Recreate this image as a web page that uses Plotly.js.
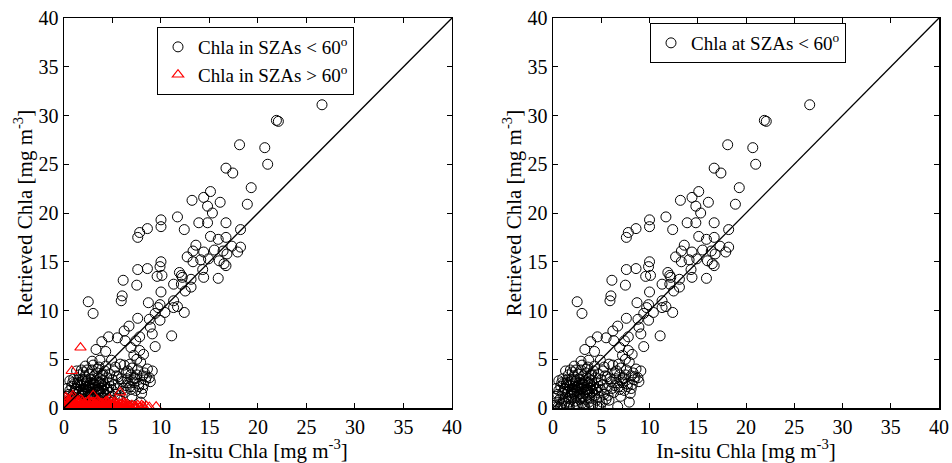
<!DOCTYPE html>
<html>
<head>
<meta charset="utf-8">
<script src="https://cdn.plot.ly/plotly-3.0.1.min.js"></script>
<style>html,body{margin:0;padding:0;background:#fff;}#chart{width:952px;height:463px;}</style>
</head>
<body>
<div id="chart"></div>
<script>
// In-situ vs retrieved Chla, SZA < 60 (same points in both panels)
const lowSzaX = [
26.6,21.9,22.1,18.1,20.7,21.0,16.7,17.4,19.3,15.1,13.2,14.4,16.1,14.8,18.9,15.3,11.7,10.0,10.0,13.9,
14.8,16.7,8.6,7.8,7.6,12.4,18.2,15.1,16.7,15.9,13.6,13.3,14.4,15.5,17.3,18.2,17.9,16.4,16.8,12.7,
14.1,14.9,16.0,16.5,16.7,13.3,10.0,9.9,8.6,7.6,14.3,14.4,15.9,11.9,12.1,12.2,9.6,10.1,6.1,13.1,
11.3,12.1,7.5,13.1,12.5,10.0,6.0,5.9,2.5,3.0,8.7,11.3,11.7,11.3,12.4,9.9,9.7,10.4,9.4,7.6,
8.8,9.9,6.7,6.2,8.9,9.1,7.8,4.6,3.9,5.5,6.3,11.1,7.4,6.9,9.4,3.3,4.3,7.8,8.2,4.9,
2.9,3.7,5.8,6.8,7.5,8.6,9.1,
7.2,7.9,8.1,7.3,6.6,8.4,7.0,6.4,7.7,8.8,6.1,7.4,8.0,5.6,6.9,7.6,8.3,6.2,5.3,
0.2,0.3,0.4,0.5,0.6,0.7,0.8,0.9,1.0,1.0,1.1,1.2,1.3,1.4,1.4,1.5,1.6,1.6,1.7,1.7,
1.8,1.9,1.9,2.0,2.0,2.1,2.1,2.2,2.2,2.3,2.3,2.4,2.4,2.5,2.5,2.6,2.6,2.6,2.7,2.8,
2.8,2.9,2.9,3.0,3.0,3.1,3.1,3.2,3.2,3.3,3.3,3.4,3.4,3.5,3.5,3.6,3.6,3.7,3.7,3.8,
3.8,3.9,3.9,4.0,4.0,4.1,4.1,4.2,4.2,4.3,4.4,4.4,4.5,4.6,4.6,4.7,4.8,4.8,4.9,5.0,
5.0,5.1,5.2,5.3,5.4,5.5,5.6,5.7,5.8,6.0,6.3,6.5,6.7,6.8,7.0,7.2,7.5,7.9,8.2,8.5,
8.9,0.1,0.3,0.5,0.8,1.2,1.5,2.0,2.4,2.7,3.3,3.5,3.9,4.3,1.1,1.8,2.9,3.6,4.7,5.2,
0.6,1.3,2.2,3.0,1.6,2.5,3.4,4.0,2.1,2.8,3.7,
1.4,1.9,2.3,2.7,3.2,3.6,4.1,4.5,1.2,1.7,2.2,2.6,3.1,3.5,3.9,0.9,1.5,2.0,2.5,3.0,
6.4,6.9,7.3,7.7,8.1,5.9,6.6,7.1
];
const lowSzaY = [
31.1,29.5,29.4,27.0,26.7,25.0,24.6,24.1,22.6,22.2,21.3,21.6,21.1,20.7,20.9,20.0,19.6,19.3,18.6,19.0,
19.0,19.0,18.4,18.0,17.5,18.3,18.3,17.6,17.5,17.3,16.7,16.1,16.0,16.2,16.6,16.5,16.0,16.1,15.8,15.5,
15.2,15.3,15.1,14.8,14.6,15.0,15.0,14.5,14.3,14.2,14.2,13.4,13.3,13.9,13.6,13.4,13.5,13.6,13.1,13.2,
12.7,12.7,12.6,12.4,12.0,11.9,11.5,11.0,10.9,9.7,10.8,11.0,10.4,10.3,9.8,10.6,10.3,9.8,9.7,9.2,
9.1,9.0,8.4,7.9,8.3,7.6,7.3,7.3,6.8,7.2,6.9,7.4,6.9,6.2,6.3,6.0,5.8,5.9,5.5,4.9,
4.8,4.9,4.5,4.5,5.0,4.0,3.8,
5.4,4.7,3.3,3.0,2.6,2.9,4.1,3.6,2.2,3.1,2.0,1.8,1.5,3.2,3.4,3.9,3.6,4.4,4.2,
0.3,1.2,0.6,0.1,1.8,0.9,2.2,0.4,1.5,3.0,0.8,2.0,1.1,0.2,2.6,1.7,0.6,3.4,0.15,2.3,
1.3,2.9,0.9,1.9,3.7,0.1,2.5,1.5,3.2,0.7,2.1,1.1,2.8,1.8,0.3,3.5,0.15,2.3,1.4,2.9,
0.9,1.9,3.9,2.5,0.5,1.2,3.3,2.1,0.2,1.6,2.8,0.9,3.6,2.3,1.3,1.9,4.2,0.6,3.0,2.6,
1.5,2.0,3.4,1.0,2.8,1.7,0.3,2.4,3.8,1.3,3.1,2.0,0.8,2.6,1.6,3.5,2.2,1.1,0.2,1.8,
2.9,0.6,2.4,1.4,3.3,0.9,2.0,1.3,0.8,2.7,1.6,3.0,0.15,2.2,1.2,2.6,3.4,0.6,2.4,3.2,
2.7,0.1,2.0,1.4,0.05,0.5,2.9,1.2,3.9,2.6,0.1,4.0,0.4,4.3,2.5,3.9,1.0,2.6,0.1,3.8,
2.8,3.8,4.3,4.4,1.0,2.1,1.9,3.5,1.7,1.5,1.0,
2.4,1.6,2.7,2.0,2.4,1.7,2.2,1.9,1.9,2.6,1.4,2.2,2.5,1.9,2.4,2.6,2.3,2.8,1.6,2.0,
2.3,1.9,3.1,2.5,2.0,3.0,3.8,2.8
];
// SZA > 60 (left panel only)
const highSzaX = [
1.7,0.8,0.9,3.0,5.8,4.7,0.2,0.4,0.6,0.8,1.0,1.2,1.3,1.5,1.7,1.9,2.0,2.2,2.4,2.5,
2.7,2.9,3.1,3.3,3.5,3.6,3.8,4.0,4.2,4.4,4.6,4.8,5.0,5.2,5.4,5.6,5.8,6.0,6.2,6.5,
6.7,7.0,7.3,7.6,7.9,8.2,8.5,9.5,0.1,0.3,0.5,0.7,1.1,1.4,1.6,1.8,2.1,2.3,2.6,2.8,
3.0,3.2,3.4,3.7,3.9,4.1,4.3,4.5,4.7,4.9,5.1,5.3,5.5,5.9,6.3,6.9,0.2,0.6,
0.35,0.65,0.95,1.25,1.55,1.85,2.15,2.45,2.75,3.05,3.35,3.65,3.95,4.25,4.55,4.85,5.15,5.45,5.75,6.05,
6.4,6.8,7.2,7.8,8.0,8.8,0.45,0.85,1.35,1.75,2.55,3.45,4.35,5.25,6.1,7.5
];
const highSzaY = [
6.2,3.8,1.3,1.3,1.6,0.9,0.5,0.2,0.7,0.1,0.4,0.8,0.15,0.5,0.3,0.7,0.1,0.4,0.6,0.2,
0.3,0.5,0.1,0.4,0.25,0.6,0.1,0.35,0.5,0.15,0.3,0.45,0.1,0.3,0.5,0.2,0.35,0.1,0.25,0.4,
0.15,0.3,0.2,0.3,0.1,0.15,0.2,0.15,0.05,0.9,0.3,0.05,0.2,0.6,0.05,0.2,0.5,0.05,0.4,0.1,
0.6,0.2,0.05,0.3,0.5,0.1,0.3,0.6,0.2,0.05,0.5,0.1,0.3,0.05,0.5,0.1,1.1,0.4,
0.15,0.35,0.6,0.3,0.1,0.45,0.25,0.05,0.55,0.3,0.15,0.45,0.25,0.6,0.1,0.3,0.2,0.05,0.45,0.3,
0.05,0.2,0.1,0.05,0.3,0.1,0.8,1.0,0.9,0.85,0.75,0.8,0.7,0.65,0.6,0.05
];
const oneToOne = [0, 40];
const tickVals = [0, 5, 10, 15, 20, 25, 30, 35, 40];
const legendLow1 = 'Chla in SZAs &lt; 60<sup>o</sup>';
const legendHigh1 = 'Chla in SZAs &gt; 60<sup>o</sup>';
const legendLow2 = 'Chla at SZAs &lt; 60<sup>o</sup>';
const xTitle = 'In-situ Chla [mg m<sup>-3</sup>]';
const yTitle = 'Retrieved Chla [mg m<sup>-3</sup>]';

const FONT = 'Liberation Serif, Times New Roman, serif';
const circ = {symbol: 'circle-open', size: 10, color: '#000', line: {width: 1, color: '#000'}};
const tri = {symbol: 'triangle-up-open', size: 10, color: '#ff0000', line: {width: 1.1, color: '#ff0000'}};

const data = [
  {x: lowSzaX, y: lowSzaY, type: 'scatter', mode: 'markers', marker: circ, name: legendLow1, xaxis: 'x', yaxis: 'y', legend: 'legend'},
  {x: highSzaX, y: highSzaY, type: 'scatter', mode: 'markers', marker: tri, name: legendHigh1, xaxis: 'x', yaxis: 'y', legend: 'legend'},
  {x: oneToOne, y: oneToOne, type: 'scatter', mode: 'lines', line: {color: '#000', width: 1.3}, showlegend: false, xaxis: 'x', yaxis: 'y'},
  {x: lowSzaX, y: lowSzaY, type: 'scatter', mode: 'markers', marker: circ, name: legendLow2, xaxis: 'x2', yaxis: 'y2', legend: 'legend2'},
  {x: oneToOne, y: oneToOne, type: 'scatter', mode: 'lines', line: {color: '#000', width: 1.3}, showlegend: false, xaxis: 'x2', yaxis: 'y2'}
];

function ax(extra) {
  return Object.assign({
    range: [0, 40], tickvals: tickVals, ticktext: tickVals.map(String),
    ticks: 'inside', ticklen: 5, tickwidth: 1, tickcolor: '#000', tickangle: 0,
    showline: true, linecolor: '#000', linewidth: 1.5, mirror: 'ticks',
    showgrid: false, zeroline: false, fixedrange: true, automargin: false,
    tickfont: {family: FONT, size: 20, color: '#000'}
  }, extra);
}

const layout = {
  width: 952, height: 463,
  margin: {l: 64, r: 13, t: 18, b: 55, autoexpand: false},
  paper_bgcolor: '#fff', plot_bgcolor: '#fff',
  font: {family: FONT, size: 20, color: '#000'},
  xaxis: ax({domain: [0, 0.4434], anchor: 'y', title: {text: xTitle, font: {family: FONT, size: 21}, standoff: 4}}),
  yaxis: ax({domain: [0, 1], anchor: 'x', title: {text: yTitle, font: {family: FONT, size: 21}, standoff: 0}}),
  xaxis2: ax({domain: [0.5589, 1], anchor: 'y2', title: {text: xTitle, font: {family: FONT, size: 21}, standoff: 4}}),
  yaxis2: ax({domain: [0, 1], anchor: 'x2', title: {text: yTitle, font: {family: FONT, size: 21}, standoff: 0}}),
  legend: {x: (157 - 64) / 875, y: (408 - 27) / 390, xanchor: 'left', yanchor: 'top',
    bgcolor: '#fff', bordercolor: '#000', borderwidth: 1, font: {family: FONT, size: 19, color: '#000'}},
  legend2: {x: (650 - 64) / 875, y: (408 - 23) / 390, xanchor: 'left', yanchor: 'top',
    bgcolor: '#fff', bordercolor: '#000', borderwidth: 1, font: {family: FONT, size: 19, color: '#000'}},
  showlegend: true
};

Plotly.newPlot('chart', data, layout, {staticPlot: true, displayModeBar: false});
</script>
</body>
</html>
